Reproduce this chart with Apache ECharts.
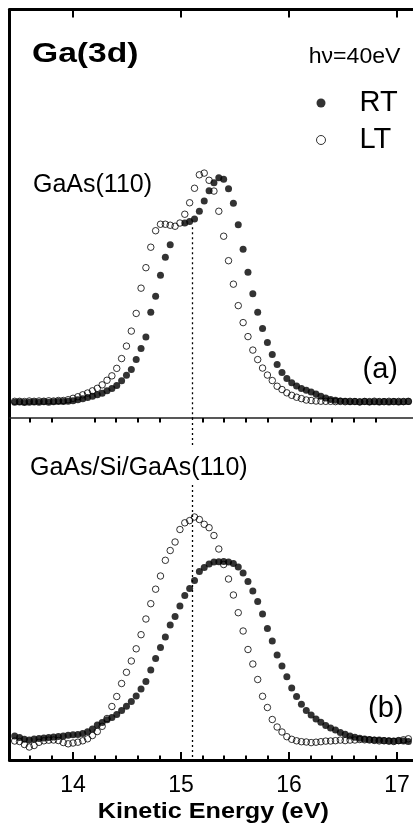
<!DOCTYPE html>
<html>
<head>
<meta charset="utf-8">
<script src="https://cdn.jsdelivr.net/npm/echarts@6/dist/echarts.min.js"></script>
<style>
html,body{margin:0;padding:0;background:#fff;}
#chart{width:413px;height:829px;}
</style>
</head>
<body>
<div id="chart"></div>
<script>
// Kinetic energy (eV) of each sampled point
const energy = [
  13.46,13.505,13.55,13.595,13.64,13.685,13.73,13.775,13.82,13.865,
  13.91,13.955,14.0,14.045,14.09,14.135,14.18,14.225,14.27,14.315,
  14.36,14.405,14.45,14.495,14.54,14.585,14.63,14.675,14.72,14.765,
  14.81,14.855,14.9,14.945,14.99,15.035,15.08,15.125,15.17,15.215,
  15.26,15.305,15.35,15.395,15.44,15.485,15.53,15.575,15.62,15.665,
  15.71,15.755,15.8,15.845,15.89,15.935,15.98,16.025,16.07,16.115,
  16.16,16.205,16.25,16.295,16.34,16.385,16.43,16.475,16.52,16.565,
  16.61,16.655,16.7,16.745,16.79,16.835,16.88,16.925,16.97,17.015,
  17.06,17.105,17.15
];
// (a) GaAs(110), intensity (arb. units)
const rtA = [
  15.7,16.0,15.5,15.8,16.0,15.7,16.2,15.8,16.2,16.4,
  16.5,16.8,17.3,18.2,19.2,20.5,21.7,23.2,24.7,27.2,
  29.6,32.6,37.4,42.8,48.5,58.5,69.5,81.0,106.0,122.0,
  143.0,161.0,173.5,null,null,195.3,196.8,199.2,207.0,217.2,
  227.5,235.5,240.5,239.0,229.5,215.0,193.5,169.0,146.0,124.5,
  106.0,89.5,75.5,63.5,53.5,45.5,39.5,35.2,32.0,29.6,
  27.7,26.0,24.0,21.8,20.0,18.6,17.7,17.0,16.7,16.2,
  16.4,16.0,16.5,16.1,16.3,15.9,16.4,16.1,16.5,16.0,
  16.2,16.4,16.0
];
const ltA = [
  16.7,16.7,16.5,17.0,16.7,17.0,16.8,17.2,17.0,17.5,
  17.5,18.3,19.7,21.3,23.2,25.0,27.2,29.7,33.2,37.8,
  42.2,49.7,59.5,72.0,87.0,104.7,130.0,150.5,171.0,187.5,
  194.0,194.0,193.0,192.0,195.2,204.0,215.5,230.0,243.5,245.2,
  238.0,227.2,207.0,182.0,157.5,134.0,112.5,95.5,81.5,68.0,
  58.5,50.0,43.0,37.5,31.8,28.5,25.2,22.7,20.8,19.4,
  18.0,17.5,17.0,16.8,16.7,16.7,16.4,16.6,16.3,16.7,
  16.5,16.2,16.6,16.4,16.8,16.5,16.3,16.7,16.4,16.6,
  16.5,16.7,16.4
];
// (b) GaAs/Si/GaAs(110), intensity (arb. units)
const rtB = [
  24.0,22.5,20.7,20.0,21.0,21.6,22.0,22.6,23.0,23.5,
  24.0,24.7,25.2,25.5,26.5,28.2,31.0,35.0,37.5,40.2,
  42.5,45.5,49.5,53.8,58.5,64.0,71.0,78.5,90.0,101.5,
  112.5,123.0,135.0,143.5,154.0,164.5,171.5,179.5,188.5,192.5,
  196.0,198.0,198.3,198.4,198.0,196.5,193.0,187.0,178.5,169.0,
  158.5,146.0,131.5,119.0,105.0,94.0,83.3,72.0,63.5,55.7,
  49.5,45.0,41.0,37.7,34.6,32.0,30.0,27.6,25.7,24.0,
  22.8,21.8,21.0,20.4,20.0,20.0,19.4,19.3,19.0,19.2,
  19.0,18.5,18.0
];
const ltB = [
  19.0,18.5,15.5,13.0,14.5,17.7,19.2,19.8,20.0,19.5,
  17.5,16.2,17.0,17.8,19.2,21.2,24.5,28.5,33.7,41.5,
  53.5,63.5,76.5,87.7,99.0,111.2,125.3,141.0,156.3,170.8,
  184.0,199.7,209.5,218.0,230.5,237.2,239.4,243.0,240.5,235.7,
  232.3,224.5,211.0,195.5,181.0,165.0,147.3,129.0,110.5,96.0,
  80.5,63.7,52.5,40.5,33.0,28.0,23.3,20.7,19.2,18.3,
  18.0,17.4,17.8,18.3,18.9,19.0,19.3,19.9,19.4,19.9,
  20.0,20.5,20.2,20.0,19.6,19.1,19.2,18.8,18.5,19.4,
  20.2,21.2,22.0
];
// Axis ticks
const majorTicks = [14, 15, 16, 17];
const minorTicks = [13.6,13.8,14.2,14.4,14.6,14.8,15.2,15.4,15.6,15.8,16.2,16.4,16.6,16.8];
const xRange = [13.412, 17.148];
const yRangeA = [0, 409];
const yRangeB = [0, 342];
// Reference energy (dashed line) and its visible extents
const refEnergy = 15.1;
const refSegA = [[191, 0]];
const refSegB = [[342, 313], [275, 0]];
const seriesNames = ['RT', 'LT'];

function pairs(ys) {
  const out = [];
  ys.forEach((y, i) => { if (y !== null) out.push([energy[i], y]); });
  return out;
}
function segs(list) {
  return list.map(s => [{ coord: [refEnergy, s[0]] }, { coord: [refEnergy, s[1]] }]);
}

const FONT = '"Liberation Sans", Arial, Helvetica, sans-serif';
const chart = echarts.init(document.getElementById('chart'), null, { renderer: 'canvas' });

const gridA = { left: 9.5, right: 0, top: 9.5, height: 408.5 };
const gridB = { left: 9.5, right: 0, top: 418, height: 342 };

function xAxisBase(gridIndex) {
  return {
    type: 'value', gridIndex: gridIndex, min: xRange[0], max: xRange[1],
    splitLine: { show: false }, axisLabel: { show: false },
    axisTick: { show: false }, axisLine: { show: false }
  };
}

const dashStyle = { color: '#000', type: [2, 3], width: 1.3 };
const rtStyle = { symbol: 'circle', symbolSize: 7, itemStyle: { color: '#000' } };
const ltStyle = { symbol: 'circle', symbolSize: 6.5, itemStyle: { color: 'rgba(255,255,255,0)', borderColor: '#000', borderWidth: 1 } };

const option = {
  animation: false,
  backgroundColor: '#fff',
  grid: [gridA, gridB],
  xAxis: [
    Object.assign(xAxisBase(0), {
      position: 'top',
      axisLine: { show: true, onZero: false, lineStyle: { color: '#000', width: 3 } },
      axisTick: { show: true, inside: true, length: 8, customValues: majorTicks, lineStyle: { color: '#000', width: 2 } }
    }),
    Object.assign(xAxisBase(0), {
      position: 'top',
      axisTick: { show: true, inside: true, length: 4.5, customValues: minorTicks, lineStyle: { color: '#000', width: 2 } }
    }),
    Object.assign(xAxisBase(0), {
      position: 'bottom',
      axisLine: { show: true, onZero: false, lineStyle: { color: '#222', width: 1.5 } }
    }),
    Object.assign(xAxisBase(1), {
      position: 'bottom',
      axisLine: { show: true, onZero: false, lineStyle: { color: '#000', width: 3 } },
      axisTick: { show: true, inside: true, length: 8, customValues: majorTicks, lineStyle: { color: '#000', width: 2 } },
      axisLabel: { show: true, customValues: majorTicks, margin: 14, color: '#000', fontSize: 23, fontFamily: FONT }
    }),
    Object.assign(xAxisBase(1), {
      position: 'bottom',
      axisTick: { show: true, inside: true, length: 4.5, customValues: minorTicks, lineStyle: { color: '#000', width: 2 } }
    })
  ],
  yAxis: [
    { type: 'value', gridIndex: 0, min: yRangeA[0], max: yRangeA[1], splitLine: { show: false },
      axisLabel: { show: false }, axisTick: { show: false },
      axisLine: { show: true, onZero: false, lineStyle: { color: '#000', width: 3 } } },
    { type: 'value', gridIndex: 1, min: yRangeB[0], max: yRangeB[1], splitLine: { show: false },
      axisLabel: { show: false }, axisTick: { show: false },
      axisLine: { show: true, onZero: false, lineStyle: { color: '#000', width: 3 } } }
  ],
  legend: {
    orient: 'vertical', left: 316, top: 88.5, padding: 0, itemGap: 8,
    itemWidth: 9, itemHeight: 9, selectedMode: false,
    textStyle: { fontSize: 29, fontFamily: FONT, color: '#000', padding: [0, 0, 0, 29] },
    data: [
      { name: seriesNames[0], icon: 'circle', itemStyle: { color: '#000', borderWidth: 0 } },
      { name: seriesNames[1], icon: 'circle', itemStyle: { color: '#fff', borderColor: '#000', borderWidth: 1 } }
    ]
  },
  series: [
    Object.assign({ name: seriesNames[0], type: 'scatter', xAxisIndex: 0, yAxisIndex: 0, data: pairs(rtA), silent: true,
      markLine: { silent: true, symbol: ['none', 'none'], label: { show: false }, lineStyle: dashStyle, data: segs(refSegA) } }, rtStyle),
    Object.assign({ name: seriesNames[1], type: 'scatter', xAxisIndex: 0, yAxisIndex: 0, data: pairs(ltA), silent: true }, ltStyle),
    Object.assign({ name: seriesNames[0], type: 'scatter', xAxisIndex: 3, yAxisIndex: 1, data: pairs(rtB), silent: true,
      markLine: { silent: true, symbol: ['none', 'none'], label: { show: false }, lineStyle: dashStyle, data: segs(refSegB) } }, rtStyle),
    Object.assign({ name: seriesNames[1], type: 'scatter', xAxisIndex: 3, yAxisIndex: 1, data: pairs(ltB), silent: true }, ltStyle)
  ],
  graphic: [
    { type: 'text', x: 32, y: 54, scaleX: 1.2, silent: true,
      style: { text: 'Ga(3d)', font: 'bold 28px ' + FONT, fill: '#000', align: 'left', verticalAlign: 'middle' } },
    { type: 'text', x: 400.5, y: 56.5, scaleX: 1.05, silent: true,
      style: { text: 'hν=40eV', font: '22px ' + FONT, fill: '#000', align: 'right', verticalAlign: 'middle' } },
    { type: 'text', x: 33, y: 185, silent: true,
      style: { text: 'GaAs(110)', font: '25px ' + FONT, fill: '#000', align: 'left', verticalAlign: 'middle' } },
    { type: 'text', x: 30, y: 468, silent: true,
      style: { text: 'GaAs/Si/GaAs(110)', font: '25px ' + FONT, fill: '#000', align: 'left', verticalAlign: 'middle' } },
    { type: 'text', x: 398, y: 370, silent: true,
      style: { text: '(a)', font: '29px ' + FONT, fill: '#000', align: 'right', verticalAlign: 'middle' } },
    { type: 'text', x: 403.5, y: 709, silent: true,
      style: { text: '(b)', font: '29px ' + FONT, fill: '#000', align: 'right', verticalAlign: 'middle' } },
    { type: 'text', x: 213.3, y: 812, scaleX: 1.12, silent: true,
      style: { text: 'Kinetic Energy (eV)', font: 'bold 22.5px ' + FONT, fill: '#000', align: 'center', verticalAlign: 'middle' } }
  ]
};
chart.setOption(option);
</script>
</body>
</html>
